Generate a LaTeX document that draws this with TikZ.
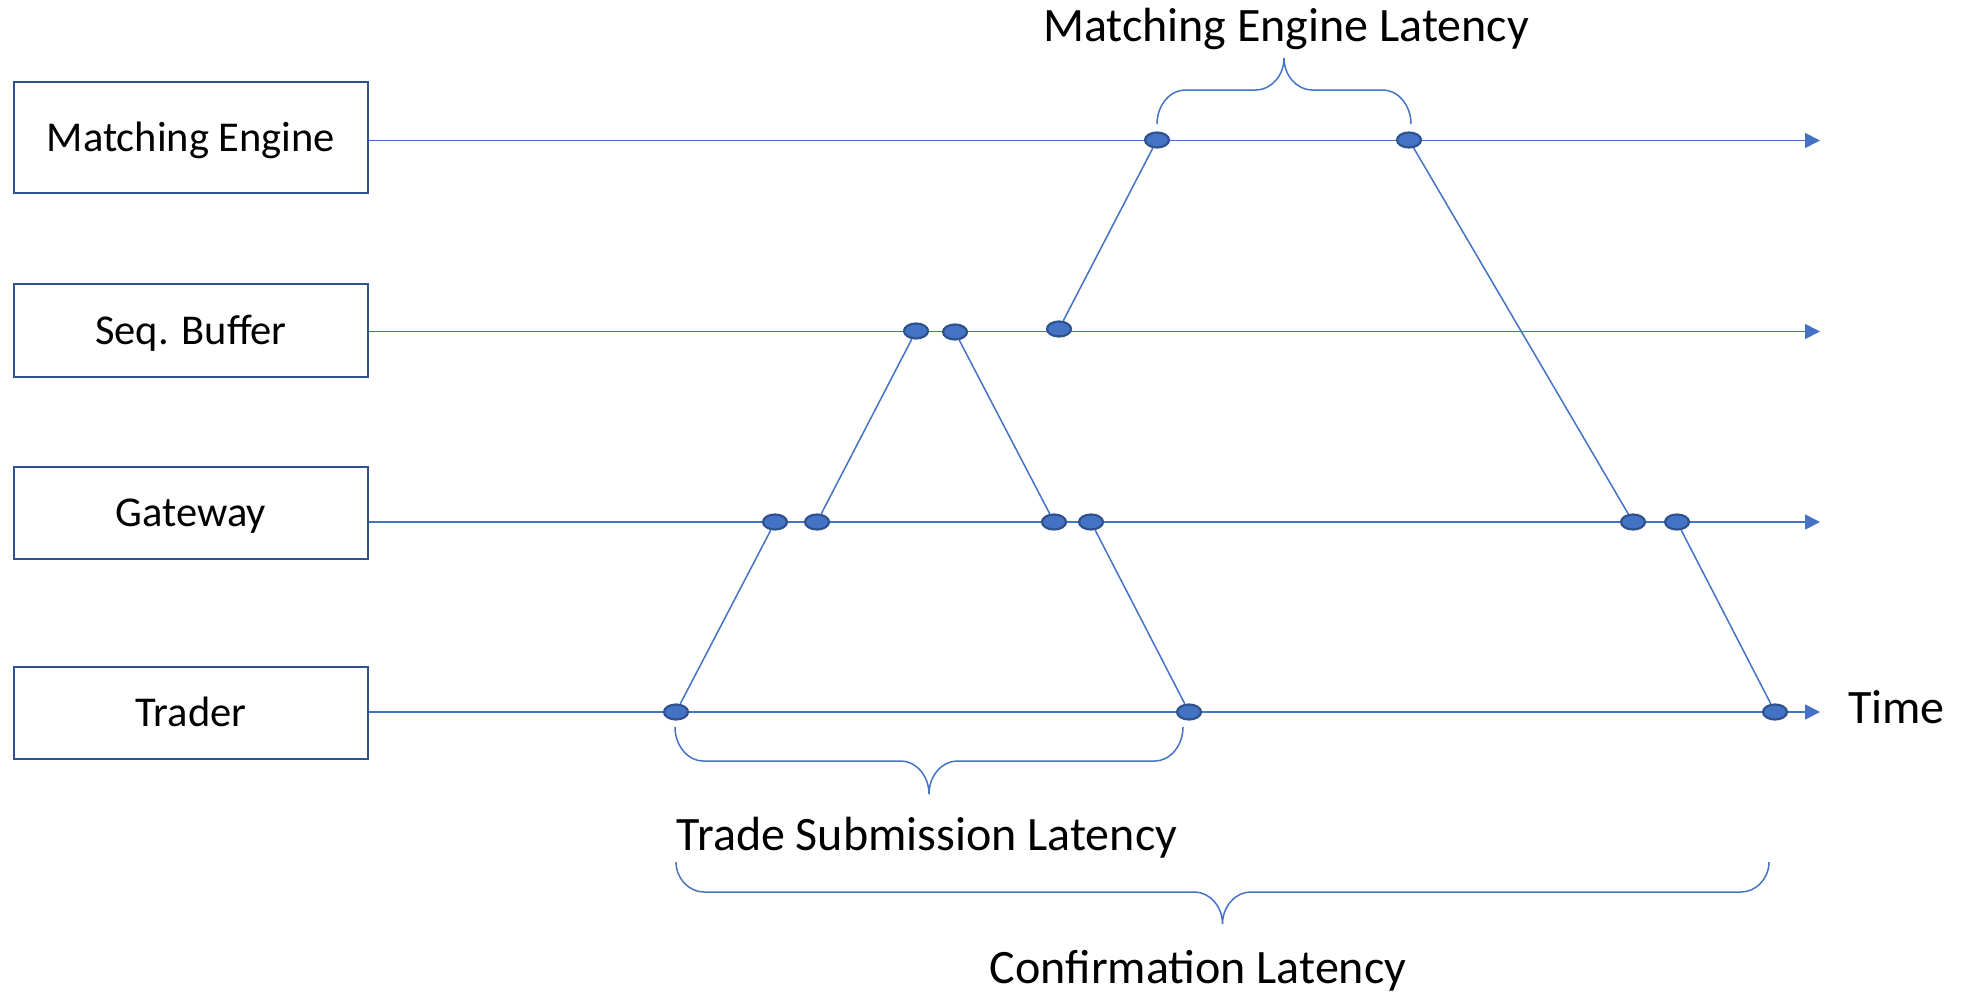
\documentclass[tikz,border=0pt]{standalone}
\usepackage{fontspec}
\setmainfont{Carlito}
\usetikzlibrary{arrows.meta,shapes.geometric}

\definecolor{lineblue}{HTML}{4472C4}
\definecolor{darkblue}{HTML}{2F528F}

% curly brace: left x, right x, end y, bar y, tip y
\newcommand\latbrace[5]{%
  \pgfmathsetmacro\bxm{(#1+#2)/2}%
  \pgfmathsetmacro\bya{#3+0.55*(#4-#3)}%
  \pgfmathsetmacro\byb{#4+0.45*(#5-#4)}%
  \draw[bracestyle] (#1,#3)
    .. controls (#1,\bya) and ({#1+13},#4) .. ({#1+28},#4)
    -- ({\bxm-28},#4)
    .. controls ({\bxm-13},#4) and (\bxm,\byb) .. (\bxm,#5)
    .. controls (\bxm,\byb) and ({\bxm+13},#4) .. ({\bxm+28},#4)
    -- ({#2-28},#4)
    .. controls ({#2-13},#4) and (#2,\bya) .. (#2,#3);}

\begin{document}
\begin{tikzpicture}[x={(1pt,0)},y={(0,-1pt)},
  actor/.style={draw=darkblue,line width=2.7pt,rectangle,inner sep=0pt,
    minimum width=354pt,text height=27pt,text depth=0pt,
    font=\fontsize{42.5}{50}\selectfont},
  timeline/.style={draw=lineblue,line width=1.6pt,-{Triangle[length=15pt,width=15pt]}},
  msg/.style={draw=lineblue,line width=1.5pt},
  ev/.style={ellipse,draw=darkblue,fill=lineblue,line width=2.2pt,inner sep=0pt,
    minimum width=24pt,minimum height=15pt},
  bracestyle/.style={draw=lineblue,line width=1.5pt},
  lbl/.style={anchor=base,inner sep=0pt,font=\fontsize{48}{56}\selectfont}]

\useasboundingbox (0,0) rectangle (1967,993);

% actors
\node[actor,minimum height=111pt] (bME) at (191,137.5) {Matching Engine};
\node[actor,minimum height=93pt]  (bSB) at (191,330.5) {Seq. Buffer};
\node[actor,minimum height=92pt]  (bGW) at (191,513)   {Gateway};
\node[actor,minimum height=92pt]  (bTR) at (191,713)   {Trader};

% time axes
\coordinate (eME) at (1820,140.5);
\coordinate (eSB) at (1820,331.5);
\coordinate (eGW) at (1820,522);
\coordinate (eTR) at (1820,712);
\draw[timeline] (bME.east |- eME) -- (eME);
\draw[timeline] (bSB.east |- eSB) -- (eSB);
\draw[timeline] (bGW.east |- eGW) -- (eGW);
\draw[timeline] (bTR.east |- eTR) -- (eTR);

% events
\node[ev] (m1) at (1157,140) {};
\node[ev] (m2) at (1409,140) {};
\node[ev] (s1) at (916,331) {};
\node[ev] (s2) at (955,332) {};
\node[ev] (s3) at (1059,329) {};
\node[ev] (g1) at (775,522) {};
\node[ev] (g2) at (817,522) {};
\node[ev] (g3) at (1054,522) {};
\node[ev] (g4) at (1091,522) {};
\node[ev] (g5) at (1633,522) {};
\node[ev] (g6) at (1677,522) {};
\node[ev] (t1) at (676,712) {};
\node[ev] (t2) at (1189,712) {};
\node[ev] (t3) at (1775,712) {};

% messages
\draw[msg] (t1) -- (g1);
\draw[msg] (g2) -- (s1);
\draw[msg] (s2) -- (g3);
\draw[msg] (g4) -- (t2);
\draw[msg] (s3) -- (m1);
\draw[msg] (m2) -- (g5);
\draw[msg] (g6) -- (t3);

% latency braces
\latbrace{1157}{1411}{124}{90}{58}
\latbrace{675}{1183}{727}{761}{794}
\latbrace{676}{1769}{862}{892}{924}

\node[lbl] (lME) at (1286,41) {Matching Engine Latency};
\node[lbl] (lTS) at (927,850) {Trade Submission Latency};
\node[lbl] (lCF) at (1198,983) {Confirmation Latency};
\node[lbl,anchor=base west] (lTime) at (1848,723) {Time};

\end{tikzpicture}
\end{document}
